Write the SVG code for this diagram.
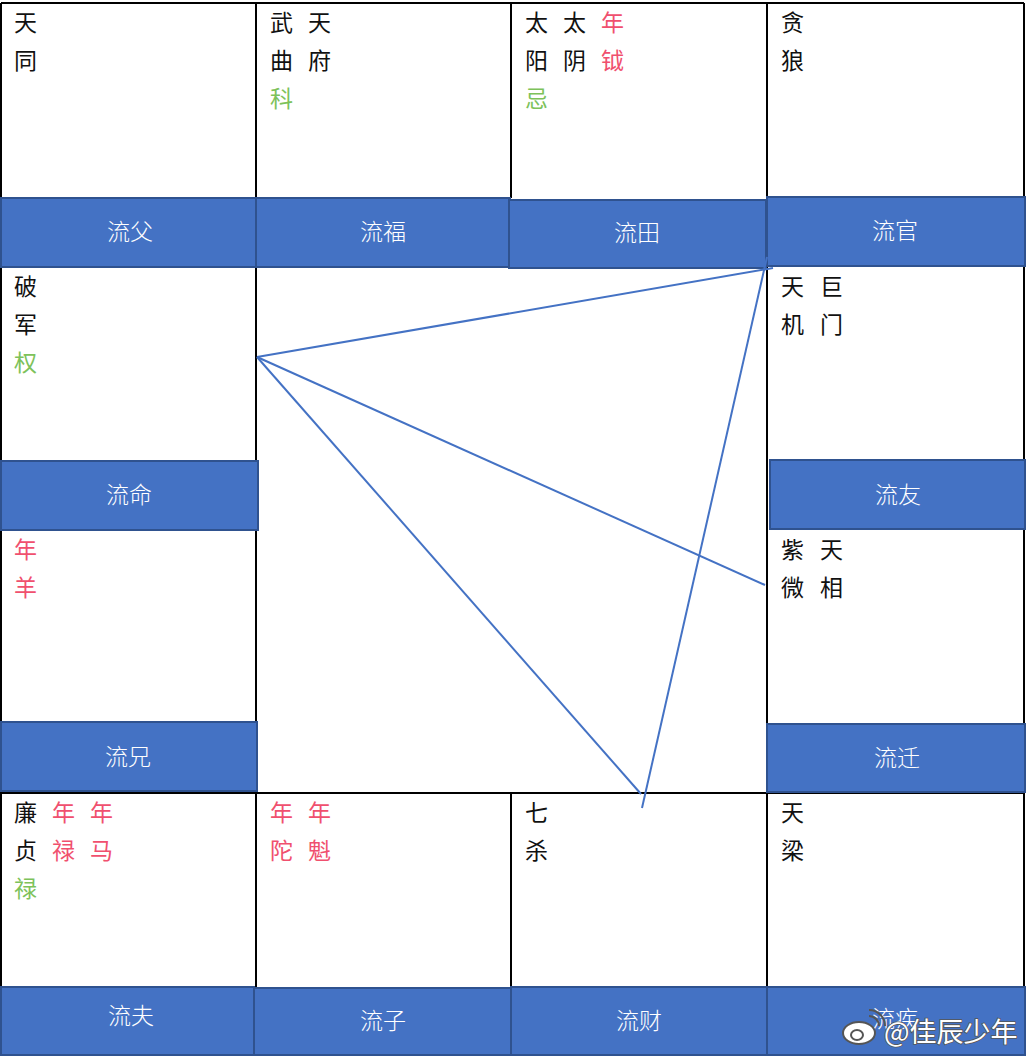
<svg xmlns="http://www.w3.org/2000/svg" width="1027" height="1057" viewBox="0 0 1027 1057">
<style>
.grid{stroke:#000;stroke-width:1.2;fill:none;shape-rendering:crispEdges}
.bar{fill:#4472C4;stroke:#2F528F;stroke-width:2}
.bl{font-family:"Noto Sans CJK SC","Noto Sans",sans-serif;font-size:23px;font-weight:300;fill:#FFFFFF;text-anchor:middle}
.t{font-family:"Noto Sans CJK SC","Noto Sans",sans-serif;font-size:23px;fill:#111}
.r{fill:#F0506E}
.g{fill:#7DC25A}
.conn{stroke:#4472C4;stroke-width:2;fill:none}
.wm{font-family:"Noto Sans CJK SC","Noto Sans",sans-serif;font-size:27px;fill:#FFFFFF;stroke:#555;stroke-width:1.6;paint-order:stroke}
</style>
<rect width="1027" height="1057" fill="#FFFFFF"/>
<g id="grid" class="grid">
<line x1="1" y1="3" x2="1024" y2="3"/>
<line x1="1" y1="3" x2="1" y2="1055"/>
<line x1="1024" y1="3" x2="1024" y2="1055"/>
<line x1="1" y1="1055" x2="1024" y2="1055"/>
<line x1="1" y1="793" x2="1024" y2="793"/>
<line x1="256" y1="3" x2="256" y2="1055"/>
<line x1="511" y1="3" x2="511" y2="198"/>
<line x1="511" y1="793" x2="511" y2="1055"/>
<line x1="767" y1="3" x2="767" y2="1055"/>
</g>
<g id="cell-1">
<text class="t" x="14" y="31">天</text>
<text class="t" x="14" y="69">同</text>
</g>
<g id="cell-2">
<text class="t" x="270" y="31">武</text><text class="t" x="308" y="31">天</text>
<text class="t" x="270" y="69">曲</text><text class="t" x="308" y="69">府</text>
<text class="t g" x="270" y="107">科</text>
</g>
<g id="cell-3">
<text class="t" x="525" y="31">太</text><text class="t" x="563" y="31">太</text><text class="t r" x="601" y="31">年</text>
<text class="t" x="525" y="69">阳</text><text class="t" x="563" y="69">阴</text><text class="t r" x="601" y="69">钺</text>
<text class="t g" x="525" y="107">忌</text>
</g>
<g id="cell-4">
<text class="t" x="781" y="31">贪</text>
<text class="t" x="781" y="69">狼</text>
</g>
<g id="cell-5">
<text class="t" x="14" y="295">破</text>
<text class="t" x="14" y="333">军</text>
<text class="t g" x="14" y="371">权</text>
</g>
<g id="cell-6">
<text class="t" x="781" y="295">天</text><text class="t" x="820" y="295">巨</text>
<text class="t" x="781" y="333">机</text><text class="t" x="820" y="333">门</text>
</g>
<g id="cell-7">
<text class="t r" x="14" y="558">年</text>
<text class="t r" x="14" y="596">羊</text>
</g>
<g id="cell-8">
<text class="t" x="781" y="558">紫</text><text class="t" x="820" y="558">天</text>
<text class="t" x="781" y="596">微</text><text class="t" x="820" y="596">相</text>
</g>
<g id="cell-9">
<text class="t" x="14" y="821">廉</text><text class="t r" x="52" y="821">年</text><text class="t r" x="90" y="821">年</text>
<text class="t" x="14" y="859">贞</text><text class="t r" x="52" y="859">禄</text><text class="t r" x="90" y="859">马</text>
<text class="t g" x="14" y="897">禄</text>
</g>
<g id="cell-10">
<text class="t r" x="270" y="821">年</text><text class="t r" x="308" y="821">年</text>
<text class="t r" x="270" y="859">陀</text><text class="t r" x="308" y="859">魁</text>
</g>
<g id="cell-11">
<text class="t" x="525" y="821">七</text>
<text class="t" x="525" y="859">杀</text>
</g>
<g id="cell-12">
<text class="t" x="781" y="821">天</text>
<text class="t" x="781" y="859">梁</text>
</g>
<g id="bar-fu"><rect class="bar" x="1" y="198" width="255" height="69"/><text class="bl" x="130" y="240">流父</text></g>
<g id="bar-fuqi"><rect class="bar" x="256" y="198" width="254" height="69"/><text class="bl" x="383" y="240">流福</text></g>
<g id="bar-tian"><rect class="bar" x="509" y="200" width="257" height="68"/><text class="bl" x="637" y="241">流田</text></g>
<g id="bar-guan"><rect class="bar" x="767" y="197" width="258" height="69"/><text class="bl" x="895" y="239">流官</text></g>
<g id="bar-ming"><rect class="bar" x="1" y="461" width="257" height="69"/><text class="bl" x="129" y="503">流命</text></g>
<g id="bar-you"><rect class="bar" x="770" y="460" width="255" height="69"/><text class="bl" x="898" y="503">流友</text></g>
<g id="bar-xiong"><rect class="bar" x="1" y="722" width="256" height="69"/><text class="bl" x="128" y="765">流兄</text></g>
<g id="bar-qian"><rect class="bar" x="767" y="724" width="258" height="68"/><text class="bl" x="897" y="766">流迁</text></g>
<g id="bar-fuq"><rect class="bar" x="1" y="987" width="253" height="68"/><text class="bl" x="131" y="1024">流夫</text></g>
<g id="bar-zi"><rect class="bar" x="254" y="988" width="257" height="67"/><text class="bl" x="383" y="1029">流子</text></g>
<g id="bar-cai"><rect class="bar" x="511" y="987" width="256" height="68"/><text class="bl" x="639" y="1029">流财</text></g>
<g id="bar-ji"><rect class="bar" x="767" y="987" width="258" height="68"/><text class="bl" x="895" y="1027">流疾</text></g>
<g id="connectors" class="conn">
<line x1="257" y1="357" x2="773" y2="268"/>
<line x1="257" y1="357" x2="765" y2="585"/>
<line x1="257" y1="357" x2="641" y2="794"/>
<line x1="642" y1="808" x2="767" y2="257"/>
</g>
<g id="watermark">
<ellipse cx="859" cy="1033" rx="16" ry="11" fill="#FFFFFF" stroke="#555" stroke-width="2"/>
<ellipse cx="857" cy="1035" rx="6" ry="5" fill="#FFFFFF" stroke="#555" stroke-width="2"/>
<path d="M869 1016 a10 10 0 0 1 10 10" fill="none" stroke="#555" stroke-width="2"/>
<path d="M869 1010 a16 16 0 0 1 16 16" fill="none" stroke="#555" stroke-width="2"/>
<text class="wm" x="884" y="1042">@佳辰少年</text>
</g>
</svg>
